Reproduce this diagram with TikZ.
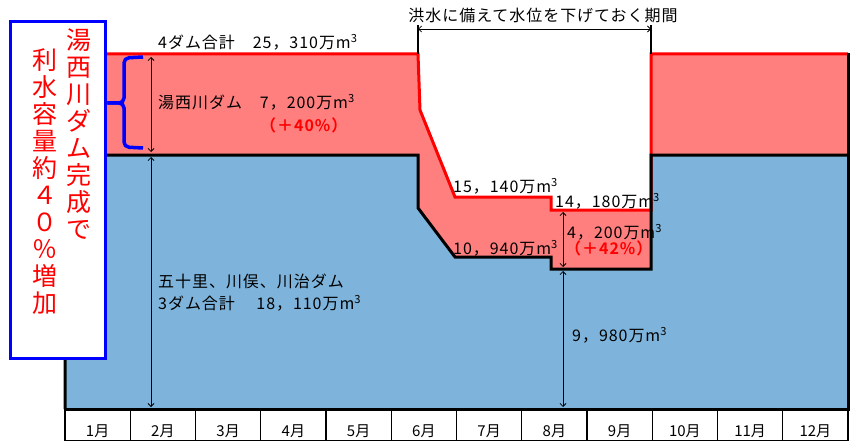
\documentclass[tikz,border=0pt]{standalone}
\usepackage{fontspec}
\setmainfont{Noto Sans CJK JP}[BoldFont={Noto Sans CJK JP Bold}]
\usepackage{tikz}
\usetikzlibrary{arrows.meta,decorations.pathreplacing,positioning}

\definecolor{damred}{RGB}{255,127,127}
\definecolor{damblue}{RGB}{126,180,220}
\newcommand{\mthree}{m\textsuperscript{3}}

\tikzset{
  lbl/.style={font=\fontsize{16}{16}\selectfont\addfontfeature{LetterSpace=6}, inner sep=0pt, anchor=west},
  pct/.style={lbl, text=red, font=\fontsize{16}{16}\selectfont\bfseries\addfontfeature{LetterSpace=6}},
  dim/.style={{Straight Barb[length=3pt]}-{Straight Barb[length=3pt]}, line width=0.8pt},
  month/.style={font=\fontsize{15}{15}\selectfont, inner sep=0pt},
  vtext/.style={text=red, font=\fontsize{25}{27}\selectfont, align=center, inner sep=0pt, anchor=north},
  notebox/.style={draw=blue, fill=white, line width=3.5pt, minimum width=95pt, minimum height=337pt, inner sep=0pt},
  bracket/.style={draw=blue, line width=3.5pt, rounded corners=5pt},
}

\begin{document}
\begin{tikzpicture}[x=1pt, y=-1pt]
  \useasboundingbox (0,0) rectangle (856,441);

  % storage areas
  \fill[damred] (65,54) -- (418,54) -- (420,110) -- (455,197) -- (551,197) -- (551,210)
    -- (651,210) -- (651,54) -- (848,54) -- (848,409) -- (65,409) -- cycle;
  \fill[damblue] (65,155) -- (418,155) -- (418,208) -- (455,257) -- (551,257) -- (551,269)
    -- (651,269) -- (651,155) -- (848,155) -- (848,409) -- (65,409) -- cycle;
  \draw[red, line width=3pt] (65,54) -- (418,54) -- (420,110) -- (455,197) -- (551,197)
    -- (551,210) -- (651,210) -- (651,54) -- (848,54);
  \draw[line width=3pt] (65,409) -- (65,155) -- (418,155) -- (418,208) -- (455,257)
    -- (551,257) -- (551,269) -- (651,269) -- (651,155) -- (848,155);
  \draw[line width=3pt] (848,53) -- (848,409) -- (65,409);

  % months
  \draw[line width=1.2pt] (65,409) rectangle (848,440.5);
  \foreach \i in {1,...,11}
    \draw[line width=1.2pt] (65+65.25*\i,409) -- ++(0,31.5);
  \foreach \i in {1,...,12}
    \node[month] (m\i) at (65+65.25*\i-32.6,431) {\i 月};

  % flood period
  \draw[line width=1.2pt] (418,25) -- (418,54);
  \draw[line width=1.2pt] (651,25) -- (651,54);
  \coordinate (fl) at (418,29);
  \coordinate (fr) at (651,29);
  \draw[dim] (fl) -- (fr);
  \node[lbl, anchor=center] (flood) at (543,15) {洪水に備えて水位を下げておく期間};

  % dimension arrows
  \coordinate (a1) at (151,57);
  \coordinate (a2) at (151,152);
  \coordinate (a3) at (151,157);
  \coordinate (a4) at (151,407);
  \coordinate (b1) at (563,212);
  \coordinate (b2) at (563,267);
  \coordinate (b3) at (563,271);
  \coordinate (b4) at (563,407);
  \draw[dim] (a1) -- (a2);
  \draw[dim] (a3) -- (a4);
  \draw[dim] (b1) -- (b2);
  \draw[dim] (b3) -- (b4);

  % labels
  \node[lbl] (total4) at (158,42) {4ダム合計　25，310万\mthree};
  \node[lbl] (yunishi) at (158,102) {湯西川ダム　7，200万\mthree};
  \node[pct] (p40) at (260,125) {（＋40\%）};
  \node[lbl] (v15140) at (453,186) {15，140万\mthree};
  \node[lbl] (v14180) at (555,201) {14，180万\mthree};
  \node[lbl] (v4200) at (567,232) {4，200万\mthree};
  \node[pct] (p42) at (565,248) {（＋42\%）};
  \node[lbl] (v10940) at (453,248) {10，940万\mthree};
  \node[lbl] (three) at (158,281) {五十里、川俣、川治ダム};
  \node[lbl] (total3) at (158,303) {3ダム合計　 18，110万\mthree};
  \node[lbl] (v9980) at (572,335) {9，980万\mthree};

  % note box
  \node[notebox] (note) at (58,190) {};
  \node[vtext] (colR) at (79,29) {湯\\西\\川\\ダ\\ム\\完\\成\\で};
  \node[vtext] (colL) at (45,48) {利\\水\\容\\量\\約\\４\\０\\％\\増\\加};
  \coordinate (bt) at (143,57);
  \coordinate (bb) at (143,148);
  \coordinate (btip) at (note.east |- 0,103);
  \draw[bracket] (bt) -- (124,58) -- (124,103) -- (btip);
  \draw[bracket] (btip) -- (124,103) -- (124,147) -- (bb);
\end{tikzpicture}
\end{document}
